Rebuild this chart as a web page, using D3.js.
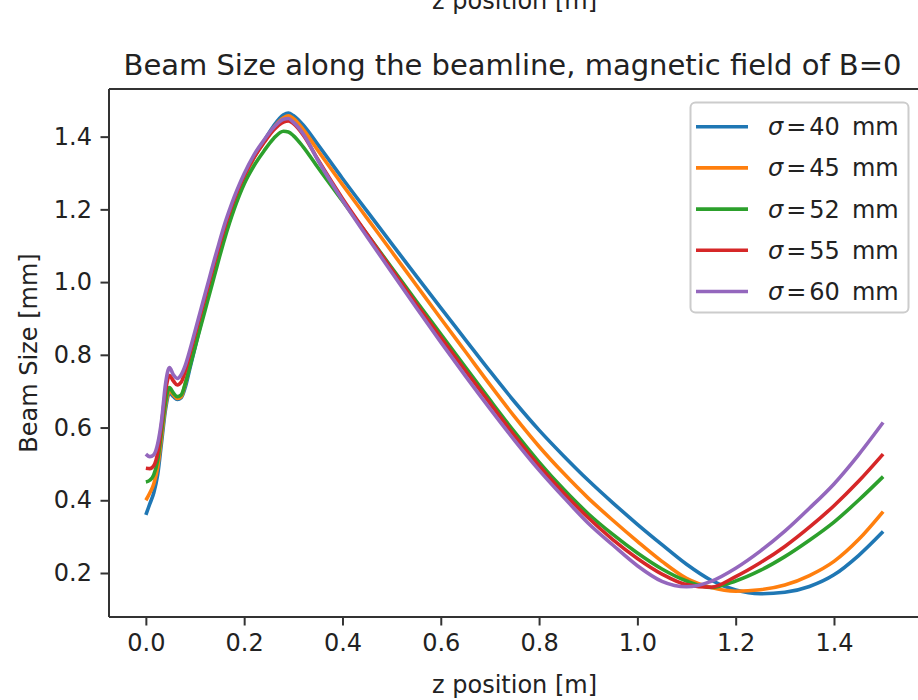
<!DOCTYPE html>
<html>
<head>
<meta charset="utf-8">
<script src="https://cdn.jsdelivr.net/npm/d3@7"></script>
<style>
  html, body { margin: 0; padding: 0; background: #fff; }
  svg { display: block; font-family: "DejaVu Sans", sans-serif; }
</style>
</head>
<body>
<svg id="chart" width="918" height="700"></svg>
<script>
// ---- data ----
const zPos = [0, 0.008, 0.016, 0.024, 0.032, 0.04, 0.048, 0.056, 0.064, 0.072,
  0.08, 0.09, 0.1, 0.11, 0.12, 0.13, 0.14, 0.15, 0.16, 0.17,
  0.18, 0.19, 0.2, 0.22, 0.24, 0.26, 0.28, 0.29, 0.3, 0.32,
  0.35, 0.4, 0.45, 0.5, 0.55, 0.6, 0.65, 0.7, 0.75, 0.8,
  0.85, 0.9, 0.95, 1.0, 1.05, 1.1, 1.15, 1.2, 1.25, 1.3,
  1.35, 1.4, 1.45, 1.5];

const sigma40 = [0.36, 0.39, 0.42, 0.47, 0.56, 0.65, 0.695, 0.685, 0.677, 0.682,
  0.71, 0.765, 0.82, 0.875, 0.93, 0.985, 1.037, 1.088, 1.136, 1.18,
  1.22, 1.256, 1.288, 1.342, 1.387, 1.43, 1.46, 1.465, 1.458, 1.432,
  1.378, 1.285, 1.195, 1.106, 1.017, 0.929, 0.842, 0.755, 0.671, 0.593,
  0.522, 0.455, 0.393, 0.334, 0.278, 0.224, 0.18, 0.153, 0.143, 0.147,
  0.163, 0.195, 0.248, 0.314];

const sigma45 = [0.40, 0.42, 0.445, 0.49, 0.575, 0.66, 0.70, 0.69, 0.68, 0.685,
  0.72, 0.775, 0.83, 0.885, 0.94, 0.99, 1.04, 1.09, 1.138, 1.182,
  1.222, 1.257, 1.288, 1.342, 1.385, 1.425, 1.452, 1.457, 1.45, 1.42,
  1.362, 1.268, 1.176, 1.084, 0.992, 0.90, 0.809, 0.718, 0.63, 0.548,
  0.474, 0.406, 0.345, 0.287, 0.232, 0.185, 0.16, 0.15, 0.154, 0.167,
  0.193, 0.232, 0.292, 0.369];

const sigma52 = [0.45, 0.455, 0.47, 0.51, 0.59, 0.67, 0.71, 0.695, 0.685, 0.69,
  0.72, 0.77, 0.82, 0.87, 0.92, 0.97, 1.02, 1.07, 1.118, 1.162,
  1.202, 1.238, 1.27, 1.32, 1.36, 1.395, 1.415, 1.413, 1.403, 1.372,
  1.315, 1.223, 1.132, 1.04, 0.948, 0.857, 0.766, 0.676, 0.588, 0.505,
  0.43, 0.363, 0.306, 0.255, 0.211, 0.178, 0.16, 0.178, 0.207, 0.245,
  0.29, 0.34, 0.40, 0.465];

const sigma55 = [0.488, 0.487, 0.495, 0.53, 0.61, 0.70, 0.743, 0.728, 0.717, 0.725,
  0.755, 0.805, 0.855, 0.905, 0.955, 1.005, 1.055, 1.102, 1.148, 1.19,
  1.228, 1.262, 1.292, 1.343, 1.383, 1.418, 1.44, 1.443, 1.436, 1.405,
  1.337, 1.23, 1.132, 1.035, 0.94, 0.848, 0.757, 0.667, 0.578, 0.495,
  0.42, 0.352, 0.292, 0.24, 0.197, 0.168, 0.161, 0.19, 0.228, 0.273,
  0.326, 0.385, 0.452, 0.527];

const sigma60 = [0.527, 0.52, 0.525, 0.555, 0.62, 0.72, 0.765, 0.745, 0.735, 0.745,
  0.77, 0.815, 0.865, 0.915, 0.965, 1.015, 1.065, 1.112, 1.158, 1.198,
  1.235, 1.268, 1.298, 1.35, 1.39, 1.425, 1.448, 1.45, 1.44, 1.408,
  1.335, 1.225, 1.125, 1.027, 0.93, 0.835, 0.742, 0.652, 0.565, 0.483,
  0.408, 0.337, 0.277, 0.22, 0.177, 0.162, 0.177, 0.213, 0.26, 0.315,
  0.378, 0.445, 0.525, 0.614];

const seriesNames = ["40", "45", "52", "55", "60"];
const seriesValues = [sigma40, sigma45, sigma52, sigma55, sigma60];
const seriesColors = ["#1f77b4", "#ff7f0e", "#2ca02c", "#d62728", "#9467bd"];
const xTicks = [0, 0.2, 0.4, 0.6, 0.8, 1.0, 1.2, 1.4];
const yTicks = [0.2, 0.4, 0.6, 0.8, 1.0, 1.2, 1.4];

const titleText = "Beam Size along the beamline, magnetic field of B=0";
const xLabel = "z position [m]";
const yLabel = "Beam Size [mm]";

// ---- layout ----
const svg = d3.select("#chart");
const L = 109, R = 920, T = 89, B = 617;
const textColor = "#222";
const fs = 24;

const x = d3.scaleLinear().domain([-0.075, 1.575]).range([L, R]);
const y = d3.scaleLinear().domain([0.079, 1.531]).range([B, T]);

// cut-off label belonging to the figure above (cropped in the reference too)
svg.append("text").attr("x", (L + R) / 2).attr("y", 9)
  .attr("text-anchor", "middle").attr("font-size", fs).attr("fill", textColor)
  .text(xLabel);

// lines
const line = d3.line()
  .x((d, i) => x(zPos[i]))
  .y(d => y(d))
  .curve(d3.curveMonotoneX);

const g = svg.append("g");
seriesValues.forEach((vals, k) => {
  g.append("path").datum(vals)
    .attr("d", line)
    .attr("fill", "none")
    .attr("stroke", seriesColors[k])
    .attr("stroke-width", 3.6)
    .attr("stroke-linejoin", "round")
    .attr("stroke-linecap", "butt");
});

// axes
const tickLen = 8.5, tickPad = 8.5;
const xAxis = svg.append("g").attr("transform", `translate(0,${B})`)
  .call(d3.axisBottom(x).tickValues(xTicks).tickFormat(d3.format(".1f"))
    .tickSize(tickLen).tickPadding(tickPad));
const yAxis = svg.append("g").attr("transform", `translate(${L},0)`)
  .call(d3.axisLeft(y).tickValues(yTicks).tickFormat(d3.format(".1f"))
    .tickSize(tickLen).tickPadding(tickPad));
[xAxis, yAxis].forEach(a => {
  a.select(".domain").remove();
  a.selectAll(".tick line").attr("stroke", "#333").attr("stroke-width", 2);
  a.selectAll(".tick text").attr("font-size", fs).attr("fill", textColor)
    .attr("font-family", "DejaVu Sans");
});

// spines
const spines = svg.append("g").attr("stroke", "#333").attr("stroke-width", 2).attr("fill", "none");
spines.append("line").attr("x1", L).attr("x2", L).attr("y1", T).attr("y2", B);
spines.append("line").attr("x1", L).attr("x2", R).attr("y1", T).attr("y2", T);
spines.append("line").attr("x1", L).attr("x2", R).attr("y1", B).attr("y2", B);
spines.append("line").attr("x1", R).attr("x2", R).attr("y1", T).attr("y2", B);

// title
svg.append("text").attr("x", (L + R) / 2 - 2).attr("y", 75)
  .attr("text-anchor", "middle").attr("font-size", 29).attr("fill", textColor)
  .text(titleText);

// axis labels
svg.append("text").attr("x", (L + R) / 2).attr("y", 693)
  .attr("text-anchor", "middle").attr("font-size", fs).attr("fill", textColor)
  .text(xLabel);
svg.append("text")
  .attr("transform", `translate(37,${(T + B) / 2}) rotate(-90)`)
  .attr("text-anchor", "middle").attr("font-size", fs).attr("fill", textColor)
  .text(yLabel);

// legend
const lg = svg.append("g");
lg.append("rect").attr("x", 690.5).attr("y", 102.5).attr("width", 218).attr("height", 210)
  .attr("rx", 5).attr("fill", "#fff").attr("fill-opacity", 0.8)
  .attr("stroke", "#ccc").attr("stroke-width", 2);
seriesNames.forEach((n, k) => {
  const yy = 126.7 + k * 41.2;
  lg.append("line").attr("x1", 696).attr("x2", 748).attr("y1", yy).attr("y2", yy)
    .attr("stroke", seriesColors[k]).attr("stroke-width", 3.6);
  const t = lg.append("text").attr("x", 768).attr("y", yy + 8.5)
    .attr("font-size", fs).attr("fill", textColor);
  t.append("tspan").attr("font-style", "italic").text("σ");
  t.append("tspan").attr("dx", 3).text("=");
  t.append("tspan").attr("dx", 3).text(n);
  t.append("tspan").attr("dx", 12).text("mm");
});
</script>
</body>
</html>
